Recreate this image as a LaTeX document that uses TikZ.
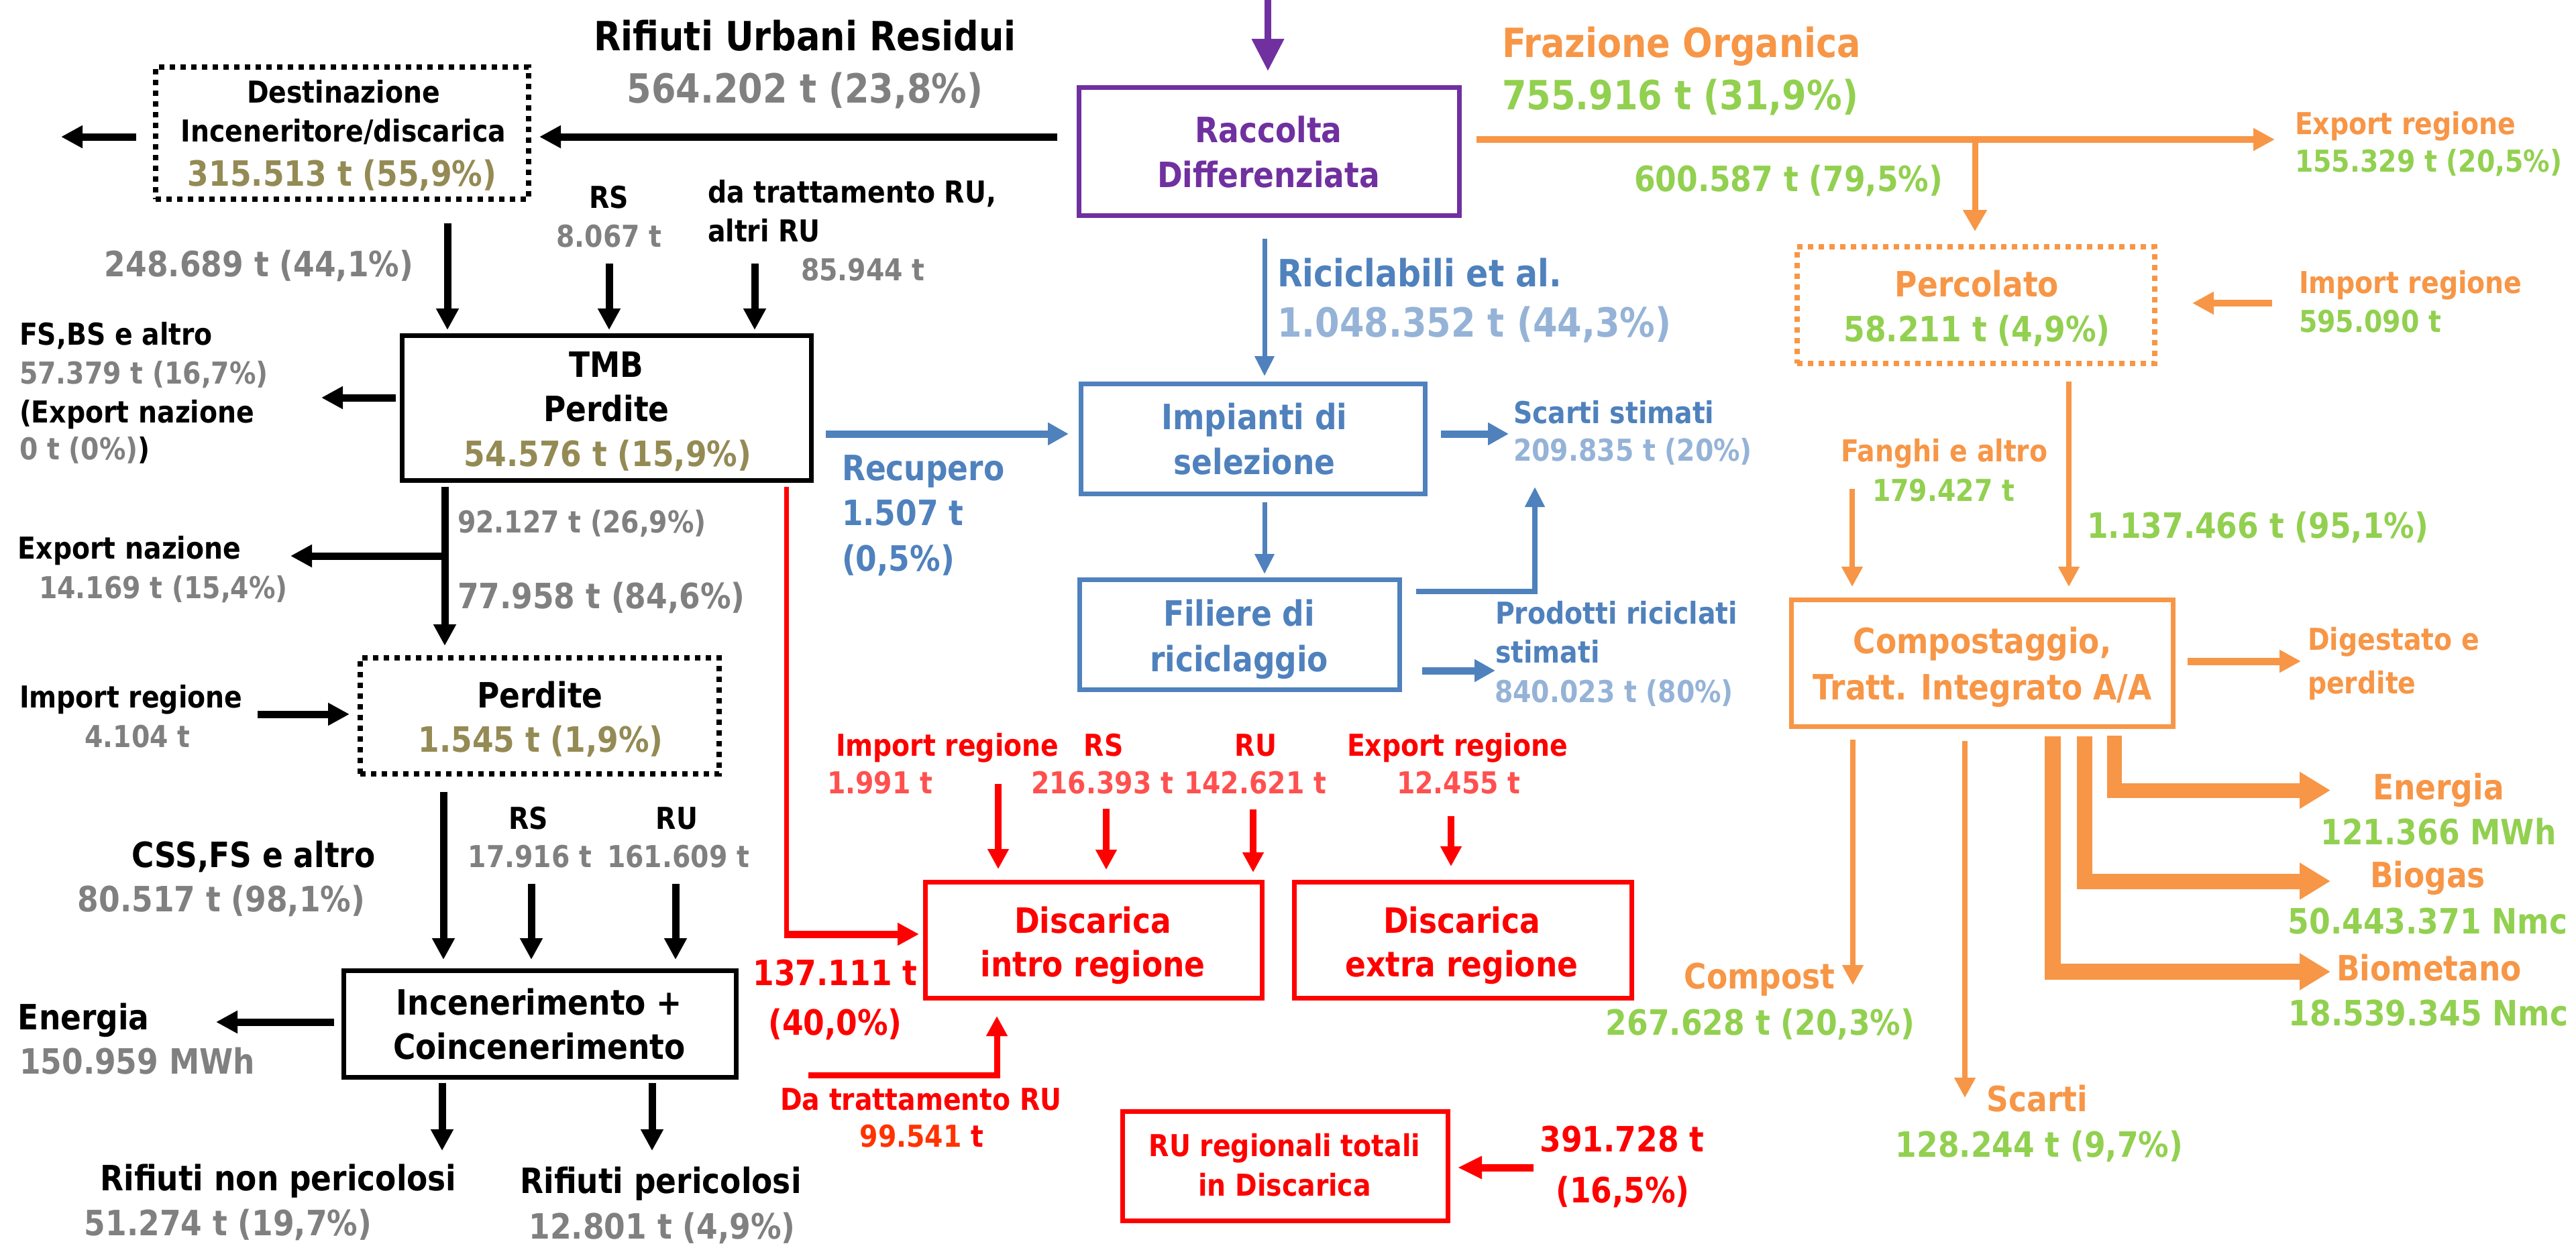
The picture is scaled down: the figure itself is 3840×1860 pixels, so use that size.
\documentclass[tikz,border=0pt]{standalone}
\usepackage{fontspec}
\setmainfont{DejaVu Sans}[FakeStretch=0.875]
\usetikzlibrary{arrows.meta}
\definecolor{cpurple}{HTML}{7030A0}
\definecolor{cgrey}{HTML}{808080}
\definecolor{ckhaki}{HTML}{948A54}
\definecolor{cblue}{HTML}{4F81BD}
\definecolor{clblue}{HTML}{95B3D7}
\definecolor{corange}{HTML}{F79646}
\definecolor{cgreen}{HTML}{92D050}
\definecolor{cred}{HTML}{FF0000}
\definecolor{clred}{HTML}{FF5050}
\definecolor{cored}{HTML}{FF3300}
\newcommand\zzH{\fontsize{60}{66}\selectfont\bfseries}
\newcommand\zzR{\fontsize{56}{62}\selectfont\bfseries}
\newcommand\zzN{\fontsize{52}{58}\selectfont\bfseries}
\newcommand\zzS{\fontsize{45}{50}\selectfont\bfseries}
\tikzset{
  tc/.style={inner sep=0pt, outer sep=0pt, anchor=base},
  tw/.style={inner sep=0pt, outer sep=0pt, anchor=base west},
  fsH/.style={font=\zzH}, fsR/.style={font=\zzR},
  fsN/.style={font=\zzN}, fsS/.style={font=\zzS},
  box/.style={draw, line width=7pt, inner sep=0pt, outer sep=0pt},
  dbox/.style={draw, line width=8pt, dash pattern=on 8pt off 8pt, inner sep=0pt, outer sep=0pt},
  ab/.style={black, line width=11pt, -{Triangle[length=32pt,width=32pt]}},
  ap/.style={cpurple, line width=10pt, -{Triangle[length=48pt,width=46pt]}},
  ar/.style={cred, line width=10pt, -{Triangle[length=30pt,width=30pt]}},
  abl/.style={cblue, line width=7pt, -{Triangle[length=30pt,width=28pt]}},
  ablt/.style={cblue, line width=11pt, -{Triangle[length=31pt,width=32pt]}},
  ao/.style={corange, line width=8pt, -{Triangle[length=30pt,width=30pt]}},
  aot/.style={corange, line width=10pt, -{Triangle[length=32pt,width=32pt]}},
  aob/.style={corange, line width=24pt, line join=miter, -{Triangle[length=46pt,width=52pt]}}
}
\begin{document}
\begin{tikzpicture}[x=1pt,y=-1pt]
\fill[white] (0,0) rectangle (3840,1860);
\useasboundingbox (0,0) rectangle (3840,1860);

% ---------- boxes ----------
\node[box, draw=cpurple, minimum width=567pt, minimum height=191pt] (rac) at (1891.5,225.5) {};
\node[dbox, minimum width=556pt, minimum height=197pt] (dest) at (510,198.5) {};
\node[box, minimum width=610pt, minimum height=216pt] (tmb) at (904,608) {};
\node[dbox, minimum width=535pt, minimum height=173pt] (perd) at (804.5,1067.5) {};
\node[box, minimum width=585pt, minimum height=159pt] (inc) at (804.5,1526.5) {};
\node[box, draw=cblue, minimum width=513pt, minimum height=164pt] (imp) at (1867.5,654) {};
\node[box, draw=cblue, minimum width=477pt, minimum height=164pt] (fil) at (1847.5,946) {};
\node[box, draw=cred, minimum width=502pt, minimum height=173pt] (dint) at (1630,1401.5) {};
\node[box, draw=cred, minimum width=503pt, minimum height=173pt] (dext) at (2180.5,1401.5) {};
\node[box, draw=cred, minimum width=485pt, minimum height=163pt] (rut) at (1915.5,1738.5) {};
\node[dbox, draw=corange, minimum width=533pt, minimum height=174pt] (perc) at (2945.5,455) {};
\node[box, draw=corange, minimum width=569pt, minimum height=189pt] (comp) at (2954.5,988.5) {};

% ---------- black connectors ----------
\coordinate (ptop) at (1890,-10);
\draw[ap, shorten >=24pt] (ptop) -- (ptop |- rac.north);
\coordinate (h204) at (0,204);
\draw[ab, shorten <=32pt, shorten >=16pt] (rac.west |- h204) -- (dest.east |- h204);
\coordinate (dout) at (91,204);
\draw[ab, shorten <=29pt] (dest.west |- h204) -- (dout);
\coordinate (a1) at (667,333);
\coordinate (a2) at (908,393);
\coordinate (a3) at (1125,393);
\draw[ab, shorten >=8pt] (a1) -- (a1 |- tmb.north);
\draw[ab, shorten >=8pt] (a2) -- (a2 |- tmb.north);
\draw[ab, shorten >=8pt] (a3) -- (a3 |- tmb.north);
\coordinate (fso) at (479,593);
\draw[ab, shorten <=9pt] (tmb.west |- fso) -- (fso);
\coordinate (c663) at (663,829);
\draw[ab, shorten <=10pt, shorten >=18pt] (tmb.south -| c663) -- (perd.north -| c663);
\coordinate (eno) at (433,829);
\draw[ab] (c663) -- (eno);
\coordinate (iri) at (384,1065);
\draw[ab, shorten >=16pt] (iri) -- (iri -| perd.west);
\coordinate (c661) at (661,1181);
\draw[ab, shorten <=27pt, shorten >=16pt] (perd.south -| c661) -- (c661 |- inc.north);
\coordinate (a5) at (792,1318);
\coordinate (a6) at (1007,1318);
\draw[ab, shorten >=16pt] (a5) -- (a5 |- inc.north);
\draw[ab, shorten >=16pt] (a6) -- (a6 |- inc.north);
\coordinate (h1524) at (322,1524);
\draw[ab, shorten <=14pt] (inc.west |- h1524) -- (h1524);
\coordinate (o1) at (659,1716);
\coordinate (o2) at (972,1716);
\draw[ab, shorten <=9pt] (inc.south -| o1) -- (o1);
\draw[ab, shorten <=9pt] (inc.south -| o2) -- (o2);

% ---------- red connectors ----------
\coordinate (rc) at (1172,1393);
\draw[cred, line width=7pt, shorten <=10pt] (tmb.south -| rc) -- ([yshift=-5.5pt]rc);
\draw[ar, line width=11pt, -{Triangle[length=32pt,width=32pt]}, shorten >=9pt] ([xshift=-3.5pt]rc) -- (rc -| dint.west);
\coordinate (r1) at (1488,1169);
\coordinate (r2) at (1649,1206);
\coordinate (r3) at (1868,1207);
\coordinate (r4) at (2163,1217);
\draw[ar, shorten >=19pt] (r1) -- (r1 |- dint.north);
\draw[ar, shorten >=18pt] (r2) -- (r2 |- dint.north);
\draw[ar, shorten >=14pt] (r3) -- (r3 |- dint.north);
\draw[ar, shorten >=23pt] (r4) -- (r4 |- dext.north);
\coordinate (dtr) at (1205,1603);
\coordinate (dtrc) at (1486,1603);
\draw[ar, line width=9pt, line join=miter, shorten >=27pt] (dtr) -- (dtrc) -- (dtrc |- dint.south);
\coordinate (r391) at (2286,1741);
\draw[ar, line width=11pt, -{Triangle[length=36pt,width=32pt]}, shorten >=15pt] (r391) -- (r391 -| rut.east);

% ---------- blue connectors ----------
\coordinate (b1) at (1885,0);
\draw[abl, shorten <=35pt, shorten >=11pt] (rac.south -| b1) -- (imp.north -| b1);
\draw[abl, shorten <=13pt, shorten >=8pt] (imp.south -| b1) -- (fil.north -| b1);
\coordinate (rec) at (1231,647);
\draw[ablt, shorten >=18pt] (rec) -- (rec -| imp.west);
\coordinate (sco) at (2249,647);
\draw[ablt, shorten <=24pt] (imp.east |- sco) -- (sco);
\coordinate (fsc) at (2288,882);
\coordinate (fst) at (2288,726);
\draw[abl, line width=8pt, line join=miter, shorten <=25pt] (fil.east |- fsc) -- (fsc) -- (fst);
\coordinate (pro) at (2229,1000);
\draw[ablt, shorten <=34pt] (fil.east |- pro) -- (pro);

% ---------- orange connectors ----------
\coordinate (oex) at (3391,208);
\draw[aot, shorten <=26pt] (rac.east |- oex) -- (oex);
\coordinate (obr) at (2944,208);
\draw[ao, line width=9pt, -{Triangle[length=32pt,width=34pt]}, shorten >=23pt] (obr) -- (obr |- perc.north);
\coordinate (oim) at (3387,452);
\draw[aot, shorten >=56pt] (oim) -- (oim -| perc.east);
\coordinate (opc) at (3084,0);
\draw[ao, shorten <=27pt, shorten >=19pt] (perc.south -| opc) -- (comp.north -| opc);
\coordinate (ofa) at (2761,729);
\draw[ao, shorten >=19pt] (ofa) -- (ofa |- comp.north);
\coordinate (odi) at (3430,986);
\draw[aot, line width=11pt, shorten <=22pt] (comp.east |- odi) -- (odi);
\coordinate (ocp) at (2762,1469);
\draw[ao, shorten <=20pt] (comp.south -| ocp) -- (ocp);
\coordinate (osc) at (2929,1637);
\draw[ao, shorten <=22pt] (comp.south -| osc) -- (osc);
\coordinate (obm) at (3059.5,1449);
\coordinate (obmt) at (3474,1449);
\draw[aob, shorten <=15pt] (comp.south -| obm) -- (obm) -- (obmt);
\coordinate (obg) at (3107.5,1314);
\coordinate (obgt) at (3474,1314);
\draw[aob, line width=23pt, shorten <=15pt] (comp.south -| obg) -- (obg) -- (obgt);
\coordinate (oen) at (3152,1178.5);
\coordinate (oent) at (3474,1178.5);
\draw[aob, line width=22pt, shorten <=14pt] (comp.south -| oen) -- (oen) -- (oent);

% ---------- texts: left / black ----------
\node[tc, fsH] (nRUR) at (1200,75) {Rifiuti Urbani Residui};
\node[tc, fsH, text=cgrey] (nRURv) at (1200,153) {564.202 t (23,8\%)};
\node[tc, fsS] (nDes1) at (512,153) {Destinazione};
\node[tc, fsS] (nDes2) at (512,211) {Inceneritore/discarica};
\node[tc, fsN, text=ckhaki] (nDes3) at (510,277) {315.513 t (55,9\%)};
\node[tc, fsN, text=cgrey] (n248) at (386,412) {248.689 t (44,1\%)};
\node[tc, fsS] (nRS1) at (908,310) {RS};
\node[tc, fsS, text=cgrey] (nRS1v) at (908,368) {8.067 t};
\node[tw, fsS] (nda1) at (1055,302) {da trattamento RU,};
\node[tw, fsS] (nda2) at (1055,360) {altri RU};
\node[tw, fsS, text=cgrey] (nda3) at (1194,418) {85.944 t};
\node[tc, fsN] (nTMB1) at (904,562) {TMB};
\node[tc, fsN] (nTMB2) at (904,628) {Perdite};
\node[tc, fsN, text=ckhaki] (nTMB3) at (906,695) {54.576 t (15,9\%)};
\node[tw, fsS] (nFS1) at (29,514) {FS,BS e altro};
\node[tw, fsS, text=cgrey] (nFS2) at (29,572) {57.379 t (16,7\%)};
\node[tw, fsS] (nFS3) at (29,630) {(Export nazione};
\node[tw, fsS] (nFS4) at (29,685) {{\color{cgrey}0 t (0\%)})};
\node[tw, fsS, text=cgrey] (n92) at (682,794) {92.127 t (26,9\%)};
\node[tw, fsN, text=cgrey] (n77) at (682,907) {77.958 t (84,6\%)};
\node[tw, fsS] (nEN1) at (27,833) {Export nazione};
\node[tw, fsS, text=cgrey] (nEN2) at (58,892) {14.169 t (15,4\%)};
\node[tw, fsS] (nIR1) at (29,1055) {Import regione};
\node[tc, fsS, text=cgrey] (nIR2) at (205,1114) {4.104 t};
\node[tc, fsN] (nPe1) at (805,1055) {Perdite};
\node[tc, fsN, text=ckhaki] (nPe2) at (806,1121) {1.545 t (1,9\%)};
\node[tc, fsS] (nRS2) at (788,1236) {RS};
\node[tc, fsS, text=cgrey] (nRS2v) at (790,1293) {17.916 t};
\node[tc, fsS] (nRU2) at (1009,1236) {RU};
\node[tc, fsS, text=cgrey] (nRU2v) at (1011,1293) {161.609 t};
\node[tc, fsN] (nCSS1) at (378,1293) {CSS,FS e altro};
\node[tc, fsN, text=cgrey] (nCSS2) at (330,1359) {80.517 t (98,1\%)};
\node[tc, fsN] (nInc1) at (804,1513) {Incenerimento +};
\node[tc, fsN] (nInc2) at (804,1579) {Coincenerimento};
\node[tw, fsN] (nEn1) at (27,1535) {Energia};
\node[tw, fsN, text=cgrey] (nEn2) at (29,1601) {150.959 MWh};
\node[tc, fsN] (nRnp1) at (415,1775) {Rifiuti non pericolosi};
\node[tc, fsN, text=cgrey] (nRnp2) at (340,1842) {51.274 t (19,7\%)};
\node[tc, fsN] (nRp1) at (985,1779) {Rifiuti pericolosi};
\node[tc, fsN, text=cgrey] (nRp2) at (987,1847) {12.801 t (4,9\%)};

% ---------- purple ----------
\node[tc, fsN, text=cpurple] (nRD1) at (1891,212) {Raccolta};
\node[tc, fsN, text=cpurple] (nRD2) at (1891,279) {Differenziata};

% ---------- blue ----------
\node[tw, fsR, text=cblue] (nRic1) at (1904,427) {Riciclabili et al.};
\node[tw, fsH, text=clblue] (nRic2) at (1904,502) {1.048.352 t (44,3\%)};
\node[tc, fsN, text=cblue] (nImp1) at (1870,640) {Impianti di};
\node[tc, fsN, text=cblue] (nImp2) at (1870,707) {selezione};
\node[tc, fsN, text=cblue] (nFil1) at (1847,933) {Filiere di};
\node[tc, fsN, text=cblue] (nFil2) at (1847,1001) {riciclaggio};
\node[tw, fsN, text=cblue] (nRec1) at (1255,716) {Recupero};
\node[tw, fsN, text=cblue] (nRec2) at (1255,783) {1.507 t};
\node[tw, fsN, text=cblue] (nRec3) at (1255,851) {(0,5\%)};
\node[tw, fsS, text=cblue] (nSc1) at (2256,631) {Scarti stimati};
\node[tw, fsS, text=clblue] (nSc2) at (2256,687) {209.835 t (20\%)};
\node[tw, fsS, text=cblue] (nPr1) at (2229,930) {Prodotti riciclati};
\node[tw, fsS, text=cblue] (nPr2) at (2229,988) {stimati};
\node[tw, fsS, text=clblue] (nPr3) at (2228,1047) {840.023 t (80\%)};

% ---------- red ----------
\node[tw, fsS, text=cred] (nRi1) at (1246,1127) {Import regione};
\node[tw, fsS, text=clred] (nRi2) at (1233,1183) {1.991 t};
\node[tc, fsS, text=cred] (nRrs) at (1645,1127) {RS};
\node[tw, fsS, text=clred] (nRrsv) at (1537,1183) {216.393 t};
\node[tc, fsS, text=cred] (nRru) at (1872,1127) {RU};
\node[tw, fsS, text=clred] (nRruv) at (1765,1183) {142.621 t};
\node[tw, fsS, text=cred] (nRex1) at (2008,1127) {Export regione};
\node[tw, fsS, text=clred] (nRex2) at (2082,1183) {12.455 t};
\node[tc, fsN, text=cred] (nDi1) at (1629,1391) {Discarica};
\node[tc, fsN, text=cred] (nDi2) at (1629,1456) {intro regione};
\node[tc, fsN, text=cred] (nDe1) at (2179,1391) {Discarica};
\node[tc, fsN, text=cred] (nDe2) at (2179,1456) {extra regione};
\node[tc, fsN, text=cred] (n137a) at (1245,1469) {137.111 t};
\node[tc, fsN, text=cred] (n137b) at (1245,1543) {(40,0\%)};
\node[tc, fsS, text=cred] (nDt1) at (1373,1655) {Da trattamento RU};
\node[tc, fsS, text=cred] (nDt2) at (1374,1710) {{\color{cored}99.541} t};
\node[tc, fsS, text=cred] (nRut1) at (1915,1724) {RU regionali totali};
\node[tc, fsS, text=cred] (nRut2) at (1915,1783) {in Discarica};
\node[tc, fsN, text=cred] (n391a) at (2418,1717) {391.728 t};
\node[tc, fsN, text=cred] (n391b) at (2419,1793) {(16,5\%)};

% ---------- orange ----------
\node[tw, fsH, text=corange] (nFO1) at (2239,85) {Frazione Organica};
\node[tw, fsH, text=cgreen] (nFO2) at (2239,163) {755.916 t (31,9\%)};
\node[tw, fsN, text=cgreen] (n600) at (2436,285) {600.587 t (79,5\%)};
\node[tw, fsS, text=corange] (nOex1) at (3421,200) {Export regione};
\node[tw, fsS, text=cgreen] (nOex2) at (3421,256) {155.329 t (20,5\%)};
\node[tc, fsN, text=corange] (nPc1) at (2947,442) {Percolato};
\node[tc, fsN, text=cgreen] (nPc2) at (2947,509) {58.211 t (4,9\%)};
\node[tw, fsS, text=corange] (nOim1) at (3427,437) {Import regione};
\node[tw, fsS, text=cgreen] (nOim2) at (3427,495) {595.090 t};
\node[tw, fsS, text=corange] (nFa1) at (2744,688) {Fanghi e altro};
\node[tw, fsS, text=cgreen] (nFa2) at (2791,747) {179.427 t};
\node[tw, fsN, text=cgreen] (n1137) at (3111,802) {1.137.466 t (95,1\%)};
\node[tc, fsN, text=corange] (nCo1) at (2955,974) {Compostaggio,};
\node[tc, fsN, text=corange] (nCo2) at (2955,1043) {Tratt. Integrato A/A};
\node[tw, fsS, text=corange] (nDg1) at (3440,969) {Digestato e};
\node[tw, fsS, text=corange] (nDg2) at (3440,1034) {perdite};
\node[tc, fsN, text=corange] (nOen1) at (3635,1192) {Energia};
\node[tc, fsN, text=cgreen] (nOen2) at (3635,1259) {121.366 MWh};
\node[tc, fsN, text=corange] (nObg1) at (3619,1323) {Biogas};
\node[tc, fsN, text=cgreen] (nObg2) at (3619,1392) {50.443.371 Nmc};
\node[tc, fsN, text=corange] (nObm1) at (3621,1462) {Biometano};
\node[tc, fsN, text=cgreen] (nObm2) at (3620,1529) {18.539.345 Nmc};
\node[tc, fsN, text=corange] (nCp1) at (2623,1474) {Compost};
\node[tc, fsN, text=cgreen] (nCp2) at (2624,1543) {267.628 t (20,3\%)};
\node[tc, fsN, text=corange] (nOsc1) at (3037,1657) {Scarti};
\node[tc, fsN, text=cgreen] (nOsc2) at (3040,1725) {128.244 t (9,7\%)};
\end{tikzpicture}
\end{document}
